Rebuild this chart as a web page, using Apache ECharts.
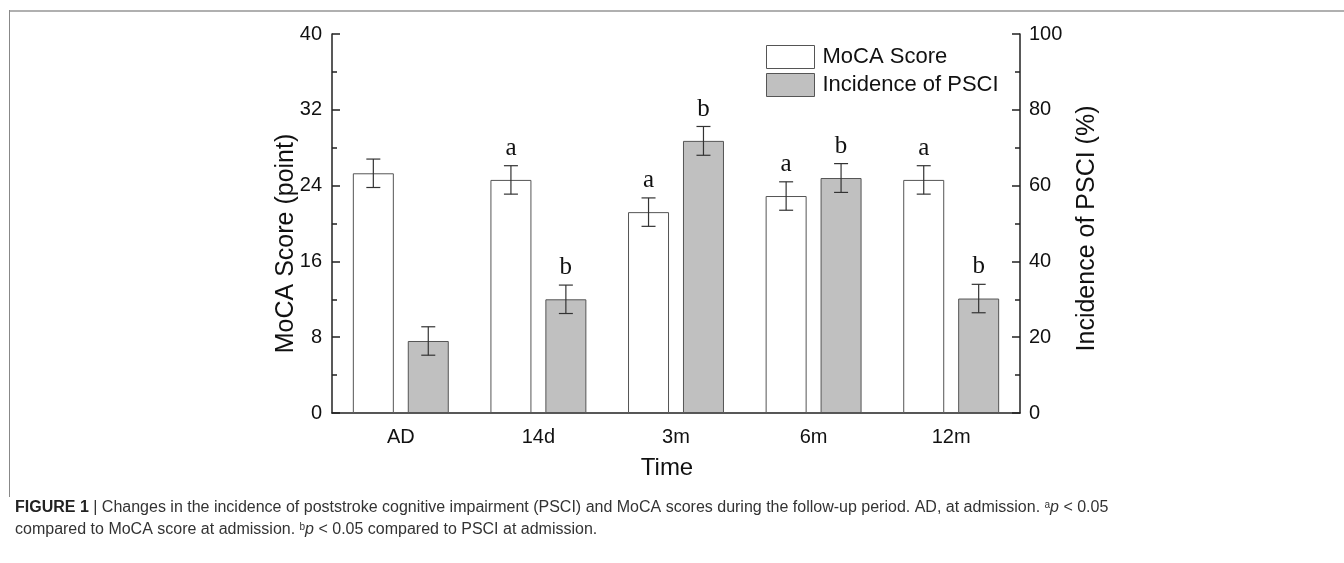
<!DOCTYPE html>
<html>
<head>
<meta charset="utf-8">
<script src="https://cdn.jsdelivr.net/npm/echarts@6/dist/echarts.min.js"></script>
<style>
html,body{margin:0;padding:0;background:#fff;}
#chart{width:1344px;height:563px;}
</style>
</head>
<body>
<div id="chart"></div>
<script>
// ---- data ----
const categories = ['AD', '14d', '3m', '6m', '12m'];
const mocaScore = [25.3, 24.6, 21.2, 22.9, 24.6];
const mocaErr = [1.5, 1.5, 1.5, 1.5, 1.5];
const psciIncidence = [19.0, 30.0, 71.8, 62.0, 30.2];
const psciErr = [3.75, 3.75, 3.8, 3.8, 3.75];
const mocaMarks = ['', 'a', 'a', 'a', 'a'];
const psciMarks = ['', 'b', 'b', 'b', 'b'];
const leftAxisRange = [0, 40, 8];
const rightAxisRange = [0, 100, 20];
const seriesNames = ['MoCA Score', 'Incidence of PSCI'];

// ---- style constants ----
const BAR_W = 41;
const BAR_GAP = 0.34;
const OFFSET = (BAR_W + BAR_W * BAR_GAP) / 2;
const SANS = 'Liberation Sans, Arial, sans-serif';
const SERIF = 'Liberation Serif, Times New Roman, serif';

const chart = echarts.init(document.getElementById('chart'), null, {renderer: 'canvas'});

function errorRender(offsetSign, marks) {
  return function (params, api) {
    const x = api.value(0);
    const v = api.value(1);
    const e = api.value(2);
    const top = api.coord([x, v + e]);
    const bot = api.coord([x, v - e]);
    const cx = top[0] + offsetSign * OFFSET;
    const cap = 7;
    const children = [
      {type: 'line', shape: {x1: cx, y1: top[1], x2: cx, y2: bot[1]}, style: {stroke: '#333', lineWidth: 1.2}},
      {type: 'line', shape: {x1: cx - cap, y1: top[1], x2: cx + cap, y2: top[1]}, style: {stroke: '#333', lineWidth: 1.2}},
      {type: 'line', shape: {x1: cx - cap, y1: bot[1], x2: cx + cap, y2: bot[1]}, style: {stroke: '#333', lineWidth: 1.2}}
    ];
    const m = marks[params.dataIndex];
    if (m) {
      children.push({type: 'text', style: {text: m, x: cx, y: top[1] - 5, align: 'center', verticalAlign: 'bottom', font: '25px ' + SERIF, fill: '#111'}});
    }
    return {type: 'group', children: children};
  };
}

const option = {
  animation: false,
  textStyle: {fontFamily: SANS, color: '#111'},
  grid: {left: 332, right: 324, top: 34, bottom: 150},
  legend: {
    orient: 'vertical', left: 766, top: 45, padding: 0,
    itemWidth: 48, itemHeight: 23, itemGap: 4, icon: 'rect',
    textStyle: {fontSize: 22, color: '#111', fontFamily: SANS, padding: [0, 0, 0, 3]},
    data: [
      {name: seriesNames[0], icon: 'rect', itemStyle: {color: '#fff', borderColor: '#555', borderWidth: 1}},
      {name: seriesNames[1], icon: 'rect', itemStyle: {color: '#c0c0c0', borderColor: '#555', borderWidth: 1}}
    ]
  },
  xAxis: [
    {
      type: 'category', data: categories, position: 'bottom',
      name: 'Time', nameLocation: 'middle', nameGap: 43, nameMoveOverlap: false,
      nameTextStyle: {fontSize: 24, color: '#111', padding: [0, 18, 0, 0]},
      axisLine: {lineStyle: {color: '#222', width: 1.5}},
      axisTick: {alignWithLabel: true, length: 8, lineStyle: {color: '#222', width: 1.5}},
      axisLabel: {fontSize: 20, color: '#111', margin: 14}
    },
    {
      type: 'category', data: categories, position: 'bottom',
      axisLine: {show: false},
      axisTick: {alignWithLabel: false, length: 4, lineStyle: {color: '#222', width: 1.5}},
      axisLabel: {show: false}
    }
  ],
  yAxis: [
    {
      type: 'value', position: 'left', min: leftAxisRange[0], max: leftAxisRange[1], interval: leftAxisRange[2],
      name: 'MoCA Score (point)', nameLocation: 'middle', nameGap: 33, nameMoveOverlap: false,
      nameTextStyle: {fontSize: 25, color: '#111', padding: [0, 40, 0, 0]},
      axisLine: {show: true, lineStyle: {color: '#222', width: 1.5}},
      axisTick: {show: true, inside: true, length: 8, lineStyle: {color: '#222', width: 1.5}},
      minorTick: {show: true, splitNumber: 2, length: 5, lineStyle: {color: '#222', width: 1.5}},
      axisLabel: {fontSize: 20, color: '#111', margin: 10},
      splitLine: {show: false}
    },
    {
      type: 'value', position: 'right', min: rightAxisRange[0], max: rightAxisRange[1], interval: rightAxisRange[2],
      name: 'Incidence of PSCI (%)', nameLocation: 'middle', nameGap: 55, nameMoveOverlap: false,
      nameTextStyle: {fontSize: 25, color: '#111', padding: [0, 10, 0, 0]},
      axisLine: {show: true, lineStyle: {color: '#222', width: 1.5}},
      axisTick: {show: true, inside: true, length: 8, lineStyle: {color: '#222', width: 1.5}},
      minorTick: {show: true, splitNumber: 2, length: 5, lineStyle: {color: '#222', width: 1.5}},
      axisLabel: {fontSize: 20, color: '#111', margin: 9},
      splitLine: {show: false}
    }
  ],
  series: [
    {
      name: seriesNames[0], type: 'bar', xAxisIndex: 0, yAxisIndex: 0,
      data: mocaScore, barWidth: BAR_W, barGap: (BAR_GAP * 100) + '%',
      itemStyle: {color: '#fff', borderColor: '#555', borderWidth: 1}
    },
    {
      name: seriesNames[1], type: 'bar', xAxisIndex: 0, yAxisIndex: 1,
      data: psciIncidence, barWidth: BAR_W, barGap: (BAR_GAP * 100) + '%',
      itemStyle: {color: '#c0c0c0', borderColor: '#555', borderWidth: 1}
    },
    {
      type: 'custom', xAxisIndex: 0, yAxisIndex: 0, z: 5,
      renderItem: errorRender(-1, mocaMarks),
      data: mocaScore.map((v, i) => [i, v, mocaErr[i]])
    },
    {
      type: 'custom', xAxisIndex: 0, yAxisIndex: 1, z: 5,
      renderItem: errorRender(1, psciMarks),
      data: psciIncidence.map((v, i) => [i, v, psciErr[i]])
    }
  ],
  graphic: [
    {type: 'line', shape: {x1: 9, y1: 11, x2: 1344, y2: 11}, style: {stroke: '#b0b0b0', lineWidth: 2}},
    {type: 'line', shape: {x1: 9.5, y1: 10, x2: 9.5, y2: 497}, style: {stroke: '#888', lineWidth: 1}},
    {
      type: 'text', x: 15, y: 500,
      style: {
        text: '{b|FIGURE 1} | Changes in the incidence of poststroke cognitive impairment (PSCI) and MoCA scores during the follow-up period. AD, at admission. {sup|a}{i|p} < 0.05',
        font: '16px ' + SANS, fill: '#333',
        rich: {
          b: {fontWeight: 'bold', fontSize: 16, fontFamily: SANS, fill: '#222'},
          sup: {fontSize: 10, fontFamily: SANS, fill: '#333', verticalAlign: 'top'},
          i: {fontStyle: 'italic', fontSize: 16, fontFamily: SANS, fill: '#333'}
        }
      }
    },
    {
      type: 'text', x: 15, y: 522,
      style: {
        text: 'compared to MoCA score at admission. {sup|b}{i|p} < 0.05 compared to PSCI at admission.',
        font: '16px ' + SANS, fill: '#333',
        rich: {
          sup: {fontSize: 10, fontFamily: SANS, fill: '#333', verticalAlign: 'top'},
          i: {fontStyle: 'italic', fontSize: 16, fontFamily: SANS, fill: '#333'}
        }
      }
    }
  ]
};
chart.setOption(option);
</script>
</body>
</html>
